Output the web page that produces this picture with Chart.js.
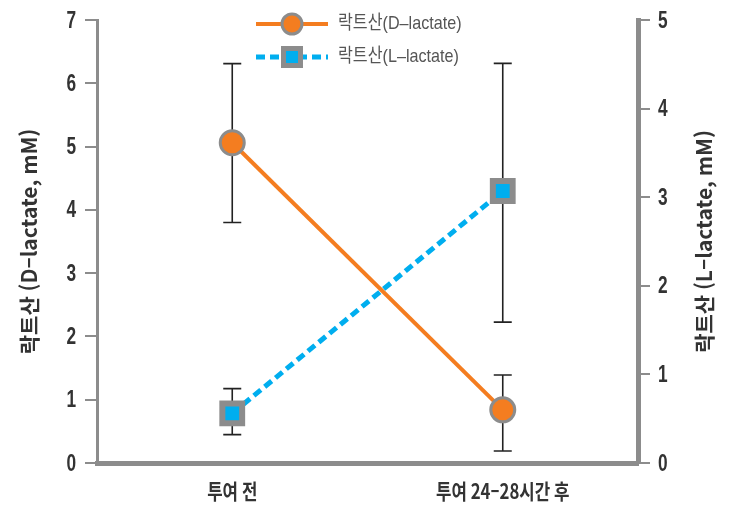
<!DOCTYPE html>
<html lang="ko">
<head>
    <meta charset="UTF-8">
    <title>락트산 농도 변화</title>
    <script src="https://cdn.jsdelivr.net/npm/chart.js"></script>
    <style>
        body { margin: 0; background: #fff; }
        canvas { display: block; }
    </style>
</head>
<body>
    <canvas id="lactateChart" width="730" height="509"></canvas>
    <script>
        // 데이터
        const categories = ['투여 전', '투여 24–28시간 후'];
        const seriesNames = ['락트산(D–lactate)', '락트산(L–lactate)'];
        const dLactate = [5.06, 0.84];
        const dErrLow = [3.80, 0.19];
        const dErrHigh = [6.31, 1.39];
        const lLactate = [0.56, 3.07];
        const lErrLow = [0.32, 1.59];
        const lErrHigh = [0.84, 4.51];
        const leftTicks = [0, 1, 2, 3, 4, 5, 6, 7];
        const rightTicks = [0, 1, 2, 3, 4, 5];
        const leftTitle = '락트산 (D–lactate, mM)';
        const rightTitle = '락트산 (L–lactate, mM)';

        const ORANGE = '#F47D20';
        const BLUE = '#00AEEF';
        const GRAY = '#8C8C8C';
        const numFont = "'Liberation Sans', 'Noto Sans CJK KR', sans-serif";
        const krFont = "'Noto Sans CJK KR', sans-serif";

        // 가로로 좁힌 글자 (원본 글꼴이 condensed)
        function condensedText(ctx, txt, x, y, align, sx) {
            ctx.save();
            ctx.translate(x, y);
            ctx.scale(sx, 1);
            ctx.textAlign = align;
            ctx.textBaseline = 'middle';
            ctx.fillText(txt, 0, 0);
            ctx.restore();
        }

        // 에러바 (마커 뒤에 그림)
        const errorBars = {
            id: 'errorBars',
            beforeDatasetsDraw(chart) {
                const ctx = chart.ctx;
                const x = chart.scales.x;
                const sets = [
                    { scale: chart.scales.yL, low: dErrLow, high: dErrHigh },
                    { scale: chart.scales.yR, low: lErrLow, high: lErrHigh }
                ];
                ctx.save();
                ctx.strokeStyle = '#222';
                ctx.lineWidth = 1.6;
                sets.forEach(s => {
                    s.low.forEach((lo, i) => {
                        const px = x.getPixelForValue(i);
                        const y1 = s.scale.getPixelForValue(lo);
                        const y2 = s.scale.getPixelForValue(s.high[i]);
                        ctx.beginPath();
                        ctx.moveTo(px, y1); ctx.lineTo(px, y2);
                        ctx.moveTo(px - 9, y1); ctx.lineTo(px + 9, y1);
                        ctx.moveTo(px - 9, y2); ctx.lineTo(px + 9, y2);
                        ctx.stroke();
                    });
                });
                ctx.restore();
            }
        };

        // 눈금 글자, 축 제목, 범례
        const extras = {
            id: 'extras',
            afterDraw(chart) {
                const ctx = chart.ctx;
                const area = chart.chartArea;
                const { x, yL, yR } = chart.scales;
                ctx.save();

                // 눈금 글자
                ctx.fillStyle = '#333';
                ctx.font = "bold 24px " + numFont;
                yL.ticks.forEach(t => {
                    condensedText(ctx, String(t.value), 76, yL.getPixelForValue(t.value) + 1, 'right', 0.72);
                });
                yR.ticks.forEach(t => {
                    condensedText(ctx, String(t.value), 658, yR.getPixelForValue(t.value) + 1, 'left', 0.72);
                });
                ctx.font = "bold 21px " + krFont;
                chart.data.labels.forEach((lab, i) => {
                    condensedText(ctx, lab, x.getPixelForValue(i), 491, 'center', 0.8);
                });

                // 축 제목
                const midY = (area.top + area.bottom) / 2;
                ctx.font = "bold 21px " + krFont;
                ctx.textAlign = 'center';
                ctx.textBaseline = 'middle';
                [[29, leftTitle], [704, rightTitle]].forEach(([tx, txt]) => {
                    ctx.save();
                    ctx.translate(tx, midY);
                    ctx.rotate(-Math.PI / 2);
                    ctx.fillText(txt, 0, 0);
                    ctx.restore();
                });

                // 범례
                const rows = [24, 57];
                chart.data.datasets.forEach((ds, i) => {
                    const y = rows[i];
                    ctx.save();
                    ctx.strokeStyle = ds.borderColor;
                    ctx.lineWidth = ds.borderWidth;
                    ctx.setLineDash(ds.borderDash || []);
                    ctx.beginPath();
                    ctx.moveTo(256, y); ctx.lineTo(328, y);
                    ctx.stroke();
                    ctx.restore();
                    Chart.helpers.drawPoint(ctx, {
                        pointStyle: ds.pointStyle,
                        radius: i === 0 ? 10 : 12,
                        borderWidth: i === 0 ? 3 : 5
                    }, 292, y);
                    ctx.fillStyle = ds.pointBackgroundColor;
                    ctx.strokeStyle = GRAY;
                    ctx.lineWidth = i === 0 ? 3 : 5;
                    ctx.fill();
                    ctx.stroke();
                    ctx.fillStyle = '#555';
                    ctx.font = "19px " + numFont;
                    condensedText(ctx, seriesNames[i], 338, y, 'left', 0.85);
                });
                ctx.restore();
            }
        };

        new Chart(document.getElementById('lactateChart'), {
            type: 'line',
            data: {
                labels: categories,
                datasets: [{
                    label: seriesNames[0],
                    data: dLactate,
                    yAxisID: 'yL',
                    borderColor: ORANGE,
                    borderWidth: 4,
                    pointStyle: 'circle',
                    pointRadius: 12,
                    pointBorderWidth: 3,
                    pointBorderColor: GRAY,
                    pointBackgroundColor: ORANGE,
                    order: 1
                }, {
                    label: seriesNames[1],
                    data: lLactate,
                    yAxisID: 'yR',
                    borderColor: BLUE,
                    borderWidth: 5,
                    borderDash: [9, 5],
                    pointStyle: 'rect',
                    pointRadius: 14,
                    pointBorderWidth: 6,
                    pointBorderColor: GRAY,
                    pointBackgroundColor: BLUE,
                    order: 2
                }]
            },
            options: {
                responsive: false,
                animation: false,
                layout: { padding: { top: 15, left: 0, right: 0, bottom: 0 } },
                plugins: { legend: { display: false }, tooltip: { enabled: false } },
                scales: {
                    x: {
                        offset: true,
                        grid: { display: false },
                        border: { display: true, color: GRAY, width: 5 },
                        ticks: { display: false },
                        afterFit: s => { s.height = 46; }
                    },
                    yL: {
                        position: 'left',
                        min: 0, max: 7,
                        afterBuildTicks: s => { s.ticks = leftTicks.map(v => ({ value: v })); },
                        grid: { drawOnChartArea: false, tickLength: 12, color: GRAY, lineWidth: 2 },
                        border: { color: GRAY, width: 3 },
                        ticks: { display: false },
                        afterFit: s => { s.width = 97; }
                    },
                    yR: {
                        position: 'right',
                        min: 0, max: 5,
                        afterBuildTicks: s => { s.ticks = rightTicks.map(v => ({ value: v })); },
                        grid: { drawOnChartArea: false, tickLength: 12, color: GRAY, lineWidth: 2 },
                        border: { color: GRAY, width: 5 },
                        ticks: { display: false },
                        afterFit: s => { s.width = 92; }
                    }
                }
            },
            plugins: [errorBars, extras]
        });
    </script>
</body>
</html>
